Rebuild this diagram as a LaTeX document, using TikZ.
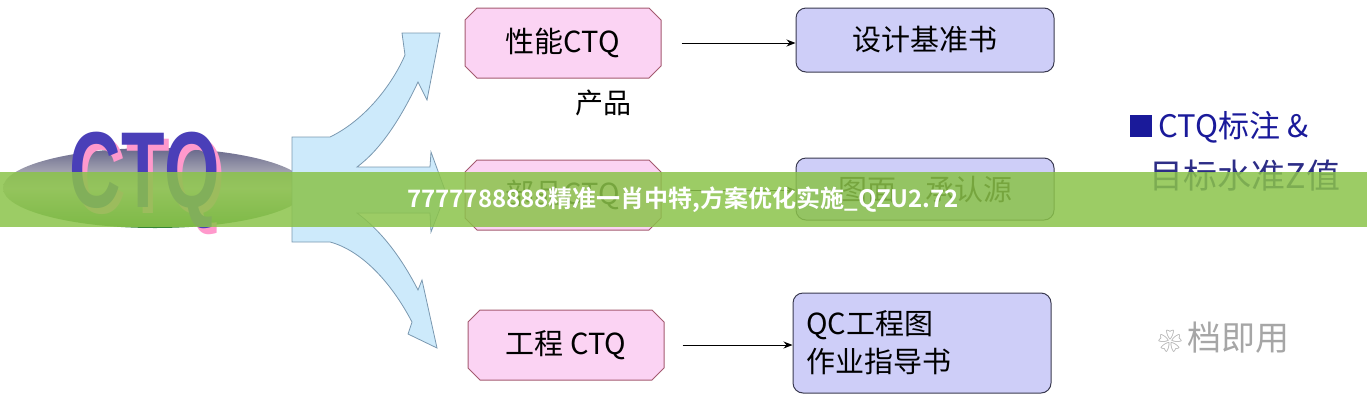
\documentclass[tikz,border=0pt]{standalone}
\usepackage{fontspec}
\setmainfont{Liberation Sans}
\newfontfamily\cjk{Noto Sans CJK SC}
\newfontfamily\cjkb{Noto Sans CJK SC Bold}
\usetikzlibrary{shapes.misc,arrows.meta}
\definecolor{pinkf}{HTML}{FBD3F3}
\definecolor{pinkd}{HTML}{A45A70}
\definecolor{purf}{HTML}{CECEF8}
\definecolor{purd}{HTML}{3A3A50}
\definecolor{armf}{HTML}{CDEAFB}
\definecolor{armd}{HTML}{7A98B0}
\definecolor{navy}{HTML}{1A1A9A}
\definecolor{banner}{HTML}{8BC34A}
\definecolor{ctqc}{HTML}{4A3FB8}
\begin{document}
\begin{tikzpicture}[x=1pt,y=-1pt,
  pinkbox/.style={chamfered rectangle,chamfered rectangle xsep=2cm,chamfered rectangle corners={north west,north east,south west,south east},chamfered rectangle angle=45,chamfered rectangle sep=6pt,fill=pinkf,draw=pinkd,line width=1pt,minimum width=196pt,minimum height=70pt,inner sep=0pt,font=\cjk\fontsize{29}{30}\selectfont},
  purbox/.style={rounded corners=10pt,fill=purf,draw=purd,line width=1pt,minimum width=258pt,inner sep=0pt,font=\cjk\fontsize{29}{38}\selectfont},
  link/.style={-{Stealth[length=9pt,width=7pt]},line width=1pt}]
\useasboundingbox (0,0) rectangle (1367,400);
% ellipse
\shade[top color=gray!60!blue!50!black!70, bottom color=green!40!black!80, middle color=gray!40] (155,188) ellipse [x radius=152, y radius=40];
\node[text=pink!80!magenta, font=\fontsize{108}{108}\selectfont\bfseries, xscale=0.66] at (150,186) {CTQ};
\node (ctq) [text=ctqc, font=\fontsize{108}{108}\selectfont\bfseries, xscale=0.66] at (145,180) {CTQ};
% branching arrow
\draw[fill=armf,draw=armd,line width=0.8pt,line join=miter]
 (292,137) -- (330,137) .. controls (365,120) and (392,85) .. (405,55) -- (402,33) -- (440,33) -- (427,100) -- (418,82)
 .. controls (400,120) and (380,150) .. (357,167) -- (430,167) -- (431,152) -- (446,193) -- (431,232) -- (430,213) -- (357,213)
 .. controls (380,230) and (400,255) .. (418,290) -- (422,280) -- (437,348) -- (408,334) -- (412,322)
 .. controls (390,280) and (360,250) .. (330,242) -- (292,242) -- cycle;
% boxes
\node (p1) [pinkbox] at (563,43) {性能CTQ};
\node (p2) [pinkbox] at (563,195) {部品CTQ};
\node (p3) [pinkbox] at (566,345) {工程 CTQ};
\node (b1) [purbox,minimum height=64pt] at (925,40) {设计基准书};
\node (b2) [purbox,minimum height=62pt] at (925,189) {图面\quad 承认源};
\node (b3) [purbox,minimum height=100pt,align=left,text width=232pt] at (922,343) {QC工程图\\作业指导书};
\draw[link] (p1.east)++(20,0) coordinate (s1) -- (b1.west|-s1);
\draw[link] (p2.east)++(20,-5) coordinate (s2) -- (b2.west|-s2);
\draw[link] (p3.east)++(18,0) coordinate (s3) -- (b3.west|-s3);
\node (prod) [font=\cjk\fontsize{28}{30}\selectfont] at (603,103) {产品};
% legend
\node (lg1) [anchor=west,text=navy,font=\cjk\fontsize{31}{32}\selectfont] at (1126,127) {\rule{22pt}{22pt} CTQ标注 \&};
\node (lg2) [anchor=west,text=gray!50!blue!70!black,font=\cjk\fontsize{34}{34}\selectfont] at (1146,176) {目标水准Z值};
\node (wm) [anchor=west,text=gray!70,font=\cjk\fontsize{32}{32}\selectfont] at (1155,338) {\fontsize{24}{24}\selectfont ❀\ \fontsize{34}{34}\selectfont 档即用};
% banner
\fill[banner,opacity=0.85] (0,172) rectangle (1367,227);
\node (bn) [text=white,font=\cjkb\fontsize{24}{24}\selectfont] at (683,200) {7777788888精准一肖中特,方案优化实施\_QZU2.72};
\end{tikzpicture}
\end{document}
